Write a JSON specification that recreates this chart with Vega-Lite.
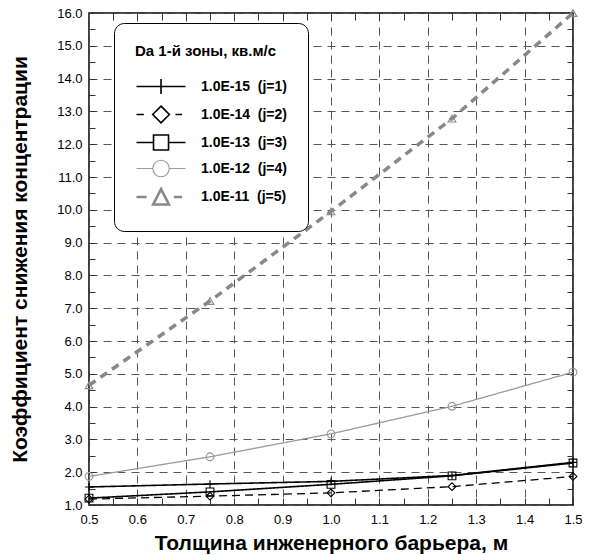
{
  "$schema": "https://vega.github.io/schema/vega-lite/v6.json",
  "width": 484,
  "height": 492,
  "autosize": {"type": "none"},
  "padding": {"left": 89, "top": 13, "right": 20, "bottom": 50},
  "background": "white",
  "config": {
    "view": {"stroke": "#000", "strokeWidth": 1.5},
    "axis": {
      "labelFont": "Liberation Sans",
      "labelFontSize": 13,
      "labelColor": "#000",
      "titleFont": "Liberation Sans",
      "titleFontSize": 21,
      "titleFontWeight": "bold",
      "titleColor": "#000",
      "domain": false,
      "tickColor": "#333",
      "tickWidth": 1,
      "gridColor": "#555",
      "gridDash": [8, 6],
      "gridWidth": 1
    },
    "legend": {
      "orient": "none",
      "legendX": 25,
      "legendY": 10,
      "strokeColor": "#000",
      "fillColor": "#fff",
      "cornerRadius": 10,
      "padding": 21,
      "titleFont": "Liberation Sans",
      "titleFontSize": 15,
      "titleFontWeight": "bold",
      "titleColor": "#000",
      "labelFont": "Liberation Sans",
      "labelFontSize": 14,
      "labelFontWeight": "bold",
      "labelColor": "#000",
      "rowPadding": 4,
      "titlePadding": 19,
      "labelOffset": 48,
      "symbolSize": 225,
      "symbolOpacity": 1,
      "labelLimit": 300
    }
  },
  "data": {
    "values": [
      {"label": "1.0E-15\u00a0\u00a0(j=1)", "x": 0.5, "y": 1.55},
      {"label": "1.0E-15\u00a0\u00a0(j=1)", "x": 0.75, "y": 1.64},
      {"label": "1.0E-15\u00a0\u00a0(j=1)", "x": 1.0, "y": 1.72},
      {"label": "1.0E-15\u00a0\u00a0(j=1)", "x": 1.25, "y": 1.9},
      {"label": "1.0E-15\u00a0\u00a0(j=1)", "x": 1.5, "y": 2.3},
      {"label": "1.0E-14\u00a0\u00a0(j=2)", "x": 0.5, "y": 1.18},
      {"label": "1.0E-14\u00a0\u00a0(j=2)", "x": 0.75, "y": 1.27},
      {"label": "1.0E-14\u00a0\u00a0(j=2)", "x": 1.0, "y": 1.37},
      {"label": "1.0E-14\u00a0\u00a0(j=2)", "x": 1.25, "y": 1.56},
      {"label": "1.0E-14\u00a0\u00a0(j=2)", "x": 1.5, "y": 1.87},
      {"label": "1.0E-13\u00a0\u00a0(j=3)", "x": 0.5, "y": 1.21},
      {"label": "1.0E-13\u00a0\u00a0(j=3)", "x": 0.75, "y": 1.4},
      {"label": "1.0E-13\u00a0\u00a0(j=3)", "x": 1.0, "y": 1.63},
      {"label": "1.0E-13\u00a0\u00a0(j=3)", "x": 1.25, "y": 1.89},
      {"label": "1.0E-13\u00a0\u00a0(j=3)", "x": 1.5, "y": 2.28},
      {"label": "1.0E-12\u00a0\u00a0(j=4)", "x": 0.5, "y": 1.87},
      {"label": "1.0E-12\u00a0\u00a0(j=4)", "x": 0.75, "y": 2.47},
      {"label": "1.0E-12\u00a0\u00a0(j=4)", "x": 1.0, "y": 3.17},
      {"label": "1.0E-12\u00a0\u00a0(j=4)", "x": 1.25, "y": 4.01},
      {"label": "1.0E-12\u00a0\u00a0(j=4)", "x": 1.5, "y": 5.05},
      {"label": "1.0E-11\u00a0\u00a0(j=5)", "x": 0.5, "y": 4.65},
      {"label": "1.0E-11\u00a0\u00a0(j=5)", "x": 0.75, "y": 7.22},
      {"label": "1.0E-11\u00a0\u00a0(j=5)", "x": 1.0, "y": 9.95},
      {"label": "1.0E-11\u00a0\u00a0(j=5)", "x": 1.25, "y": 12.78},
      {"label": "1.0E-11\u00a0\u00a0(j=5)", "x": 1.5, "y": 16.0}
    ]
  },
  "layer": [
    {
      "mark": {"type": "line", "clip": false},
      "encoding": {
        "x": {
          "field": "x", "type": "quantitative",
          "scale": {"domain": [0.5, 1.5], "nice": false, "zero": false},
          "axis": {
            "orient": "bottom",
            "title": "Толщина инженерного барьера, м",
            "titlePadding": 6,
            "values": [0.5, 0.55, 0.6, 0.65, 0.7, 0.75, 0.8, 0.85, 0.9, 0.95, 1.0, 1.05, 1.1, 1.15, 1.2, 1.25, 1.3, 1.35, 1.4, 1.45, 1.5],
            "labelExpr": "abs(datum.value*10 - round(datum.value*10)) < 0.001 ? format(datum.value, '.1f') : ''",
            "labelFlush": false,
            "labelOverlap": false,
            "tickSize": -7,
            "labelPadding": 15,
            "gridOpacity": {"condition": {"test": "abs(datum.value*10 - round(datum.value*10)) < 0.001", "value": 1}, "value": 0}
          }
        },
        "y": {
          "field": "y", "type": "quantitative",
          "scale": {"domain": [1, 16], "nice": false, "zero": false},
          "axis": {
            "orient": "left",
            "title": "Коэффициент снижения концентрации",
            "titlePadding": 26,
            "values": [1, 1.5, 2, 2.5, 3, 3.5, 4, 4.5, 5, 5.5, 6, 6.5, 7, 7.5, 8, 8.5, 9, 9.5, 10, 10.5, 11, 11.5, 12, 12.5, 13, 13.5, 14, 14.5, 15, 15.5, 16],
            "labelExpr": "abs(datum.value - round(datum.value)) < 0.001 ? format(datum.value, '.1f') : ''",
            "labelFlush": false,
            "labelOverlap": false,
            "tickSize": -6,
            "labelPadding": 13,
            "gridOpacity": {"condition": {"test": "abs(datum.value - round(datum.value)) < 0.001", "value": 1}, "value": 0}
          }
        },
        "color": {
          "field": "label", "type": "nominal",
          "scale": {"domain": ["1.0E-15\u00a0\u00a0(j=1)", "1.0E-14\u00a0\u00a0(j=2)", "1.0E-13\u00a0\u00a0(j=3)", "1.0E-12\u00a0\u00a0(j=4)", "1.0E-11\u00a0\u00a0(j=5)"], "range": ["#000000", "#000000", "#000000", "#999999", "#888888"]},
          "legend": null
        },
        "strokeDash": {
          "field": "label", "type": "nominal",
          "scale": {"domain": ["1.0E-15\u00a0\u00a0(j=1)", "1.0E-14\u00a0\u00a0(j=2)", "1.0E-13\u00a0\u00a0(j=3)", "1.0E-12\u00a0\u00a0(j=4)", "1.0E-11\u00a0\u00a0(j=5)"], "range": [[1, 0], [8, 5], [1, 0], [1, 0], [8, 6]]},
          "legend": null
        },
        "strokeWidth": {
          "field": "label", "type": "ordinal",
          "scale": {"type": "ordinal", "domain": ["1.0E-15\u00a0\u00a0(j=1)", "1.0E-14\u00a0\u00a0(j=2)", "1.0E-13\u00a0\u00a0(j=3)", "1.0E-12\u00a0\u00a0(j=4)", "1.0E-11\u00a0\u00a0(j=5)"], "range": [1.6, 1.3, 1.6, 1.3, 3.5]},
          "legend": null
        }
      }
    },
    {
      "mark": {"type": "point", "filled": false, "size": 60, "strokeWidth": 1.1, "clip": false, "opacity": 1},
      "encoding": {
        "x": {
          "field": "x", "type": "quantitative",
          "scale": {"domain": [0.5, 1.5], "nice": false, "zero": false},
          "axis": {
            "orient": "top", "labels": false, "grid": false, "title": null,
            "values": [0.55, 0.6, 0.65, 0.7, 0.75, 0.8, 0.85, 0.9, 0.95, 1.0, 1.05, 1.1, 1.15, 1.2, 1.25, 1.3, 1.35, 1.4, 1.45],
            "tickSize": -7
          }
        },
        "y": {
          "field": "y", "type": "quantitative",
          "scale": {"domain": [1, 16], "nice": false, "zero": false},
          "axis": {
            "orient": "right", "labels": false, "grid": false, "title": null,
            "values": [1.5, 2, 2.5, 3, 3.5, 4, 4.5, 5, 5.5, 6, 6.5, 7, 7.5, 8, 8.5, 9, 9.5, 10, 10.5, 11, 11.5, 12, 12.5, 13, 13.5, 14, 14.5, 15, 15.5],
            "tickSize": -6
          }
        },
        "color": {
          "field": "label", "type": "nominal",
          "scale": {"domain": ["1.0E-15\u00a0\u00a0(j=1)", "1.0E-14\u00a0\u00a0(j=2)", "1.0E-13\u00a0\u00a0(j=3)", "1.0E-12\u00a0\u00a0(j=4)", "1.0E-11\u00a0\u00a0(j=5)"], "range": ["#000000", "#000000", "#000000", "#999999", "#888888"]},
          "legend": null
        },
        "shape": {
          "field": "label", "type": "nominal",
          "scale": {"domain": ["1.0E-15\u00a0\u00a0(j=1)", "1.0E-14\u00a0\u00a0(j=2)", "1.0E-13\u00a0\u00a0(j=3)", "1.0E-12\u00a0\u00a0(j=4)", "1.0E-11\u00a0\u00a0(j=5)"], "range": ["M-1,0H1M0,-1V1", "diamond", "square", "circle", "triangle-up"]},
          "legend": null
        }
      }
    },
    {
      "mark": {"type": "point", "filled": false, "opacity": 0, "clip": false},
      "encoding": {
        "x": {"field": "x", "type": "quantitative", "scale": {"domain": [0.5, 1.5], "nice": false, "zero": false}, "axis": null},
        "y": {"field": "y", "type": "quantitative", "scale": {"domain": [1, 16], "nice": false, "zero": false}, "axis": null},
        "color": {
          "field": "label", "type": "nominal",
          "title": "Da 1-й зоны, кв.м/с",
          "scale": {"domain": ["1.0E-15\u00a0\u00a0(j=1)", "1.0E-14\u00a0\u00a0(j=2)", "1.0E-13\u00a0\u00a0(j=3)", "1.0E-12\u00a0\u00a0(j=4)", "1.0E-11\u00a0\u00a0(j=5)"], "range": ["#000000", "#000000", "#000000", "#999999", "#888888"]}
        },
        "strokeWidth": {
          "field": "label", "type": "ordinal",
          "title": "Da 1-й зоны, кв.м/с",
          "scale": {"type": "ordinal", "domain": ["1.0E-15\u00a0\u00a0(j=1)", "1.0E-14\u00a0\u00a0(j=2)", "1.0E-13\u00a0\u00a0(j=3)", "1.0E-12\u00a0\u00a0(j=4)", "1.0E-11\u00a0\u00a0(j=5)"], "range": [1.6, 1.6, 1.6, 1.1, 2.6]}
        },
        "shape": {
          "field": "label", "type": "nominal",
          "title": "Da 1-й зоны, кв.м/с",
          "scale": {"domain": ["1.0E-15\u00a0\u00a0(j=1)", "1.0E-14\u00a0\u00a0(j=2)", "1.0E-13\u00a0\u00a0(j=3)", "1.0E-12\u00a0\u00a0(j=4)", "1.0E-11\u00a0\u00a0(j=5)"], "range": [
            "M-1,0H5.53M2.27,-1V1",
            "M-1,0H-0.02M4.2,0H5.08M2.27,-1.11L3.38,0L2.27,1.11L1.16,0Z",
            "M-1,0H1.27M3.27,0H5.53M1.27,-1H3.27V1H1.27Z",
            "M-1,0H1.17M3.37,0H5.53M3.37,0A1.1,1.1 0 1,1 1.17,0A1.1,1.1 0 1,1 3.37,0",
            "M-1,0H0.34M3.97,0H5.08M2.27,-1.05L3.32,1H1.22Z"
          ]}
        }
      }
    }
  ],
  "resolve": {
    "scale": {"color": "independent", "shape": "independent", "strokeWidth": "independent"},
    "axis": {"x": "independent", "y": "independent"}
  }
}
